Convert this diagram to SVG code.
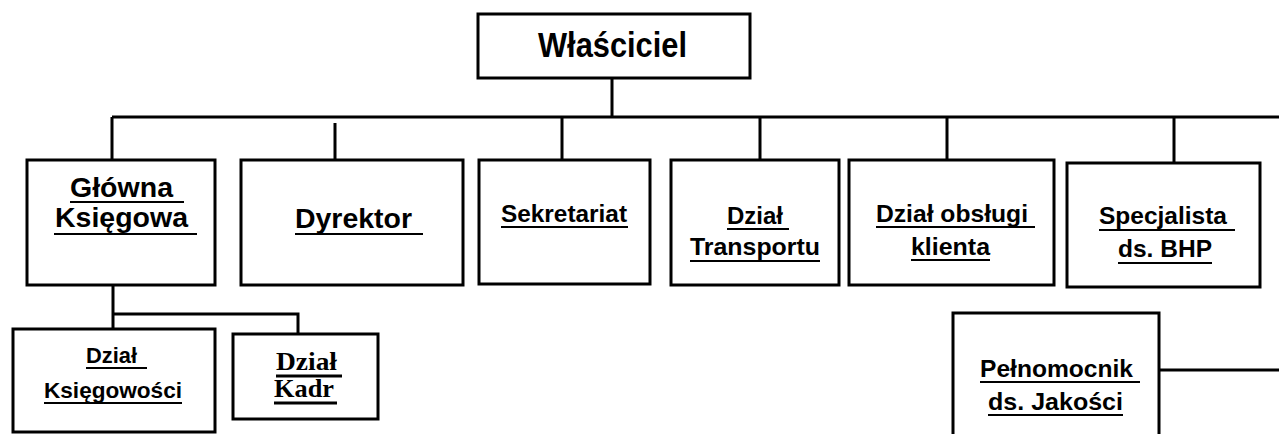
<svg xmlns="http://www.w3.org/2000/svg" width="1279" height="434" viewBox="0 0 1279 434">
<style>
.box{fill:#fff;stroke:#000;stroke-width:3}
.con{fill:none;stroke:#000;stroke-width:3}
.t{font-family:"Liberation Sans",Arial,sans-serif;font-weight:bold;fill:#000}
.s{font-family:"Liberation Serif","Times New Roman",serif;font-weight:bold;fill:#000}
.ul{stroke:#000;stroke-width:2}
.ul3{stroke:#000;stroke-width:3}
</style>
<rect width="1279" height="434" fill="#fff"/>
<g id="connectors">
<path class="con" d="M612 78V117M112 117H1279M112 117V160M335 123V163M562 117V160M760 117V160M947 117V160M1174 117V163"/>
<path class="con" d="M113 285V329M113 314H298V334"/>
<path class="con" d="M1159 370H1279"/>
</g>
<g id="wlasciciel">
<rect class="box" x="478" y="14" width="272" height="64"/>
<text class="t" x="538" y="57" font-size="35" textLength="149" lengthAdjust="spacingAndGlyphs">Właściciel</text>
</g>
<g id="glowna-ksiegowa">
<rect class="box" x="27" y="160" width="188" height="125"/>
<text class="t" x="70" y="197" font-size="27" textLength="103" lengthAdjust="spacingAndGlyphs">Główna</text>
<text class="t" x="55" y="227" font-size="27" textLength="133" lengthAdjust="spacingAndGlyphs">Księgowa</text>
<line class="ul" x1="70" y1="202" x2="184" y2="202"/>
<line class="ul" x1="54" y1="234" x2="197" y2="234"/>
</g>
<g id="dyrektor">
<rect class="box" x="241" y="160" width="222" height="125"/>
<text class="t" x="295" y="228" font-size="27" textLength="117" lengthAdjust="spacingAndGlyphs">Dyrektor</text>
<line class="ul" x1="295" y1="234" x2="423" y2="234"/>
</g>
<g id="sekretariat">
<rect class="box" x="479" y="160" width="171" height="124"/>
<text class="t" x="501" y="222" font-size="24" textLength="126" lengthAdjust="spacingAndGlyphs">Sekretariat</text>
<line class="ul" x1="501" y1="227" x2="628" y2="227"/>
</g>
<g id="dzial-transportu">
<rect class="box" x="671" y="160" width="168" height="125"/>
<text class="t" x="727" y="224" font-size="24" textLength="56" lengthAdjust="spacingAndGlyphs">Dział</text>
<text class="t" x="690" y="255" font-size="24" textLength="130" lengthAdjust="spacingAndGlyphs">Transportu</text>
<line class="ul" x1="727" y1="229" x2="789" y2="229"/>
<line class="ul" x1="690" y1="261" x2="820" y2="261"/>
</g>
<g id="dzial-obslugi-klienta">
<rect class="box" x="849" y="160" width="205" height="125"/>
<text class="t" x="876" y="222" font-size="24" textLength="152" lengthAdjust="spacingAndGlyphs">Dział obsługi</text>
<text class="t" x="911" y="255" font-size="24" textLength="79" lengthAdjust="spacingAndGlyphs">klienta</text>
<line class="ul" x1="876" y1="227" x2="1035" y2="227"/>
<line class="ul" x1="911" y1="260" x2="990" y2="260"/>
</g>
<g id="specjalista-bhp">
<rect class="box" x="1067" y="163" width="193" height="124"/>
<text class="t" x="1099" y="224" font-size="24" textLength="128" lengthAdjust="spacingAndGlyphs">Specjalista</text>
<text class="t" x="1118" y="257" font-size="24" textLength="94" lengthAdjust="spacingAndGlyphs">ds. BHP</text>
<line class="ul" x1="1099" y1="230" x2="1235" y2="230"/>
<line class="ul" x1="1118" y1="263" x2="1212" y2="263"/>
</g>
<g id="dzial-ksiegowosci">
<rect class="box" x="13" y="329" width="202" height="103"/>
<text class="t" x="86" y="363" font-size="22" textLength="51" lengthAdjust="spacingAndGlyphs">Dział</text>
<text class="t" x="44" y="398" font-size="22" textLength="138" lengthAdjust="spacingAndGlyphs">Księgowości</text>
<line class="ul" x1="86" y1="368" x2="147" y2="368"/>
<line class="ul" x1="44" y1="403" x2="182" y2="403"/>
</g>
<g id="dzial-kadr">
<rect class="box" x="233" y="334" width="145" height="85"/>
<text class="s" x="276" y="370" font-size="26" textLength="61" lengthAdjust="spacingAndGlyphs">Dział</text>
<text class="s" x="274" y="397" font-size="26" textLength="60" lengthAdjust="spacingAndGlyphs">Kadr</text>
<line class="ul3" x1="276" y1="376" x2="342" y2="376"/>
<line class="ul3" x1="274" y1="403" x2="337" y2="403"/>
</g>
<g id="pelnomocnik-jakosci">
<rect class="box" x="953" y="313" width="206" height="140"/>
<text class="t" x="980" y="377" font-size="24" textLength="153" lengthAdjust="spacingAndGlyphs">Pełnomocnik</text>
<text class="t" x="988" y="410" font-size="24" textLength="135" lengthAdjust="spacingAndGlyphs">ds. Jakości</text>
<line class="ul" x1="980" y1="382" x2="1140" y2="382"/>
<line class="ul" x1="988" y1="415" x2="1123" y2="415"/>
</g>
</svg>
